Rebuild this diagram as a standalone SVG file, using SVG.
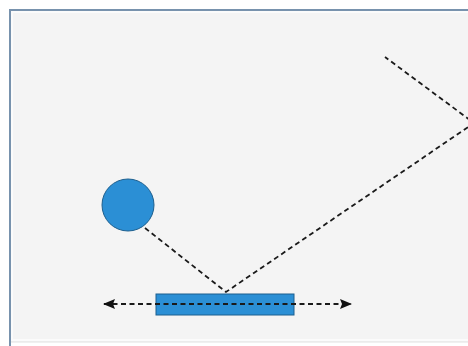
<svg xmlns="http://www.w3.org/2000/svg" width="468" height="346" viewBox="0 0 468 346">
<style>
.bg{fill:#f4f4f4}
.frame{fill:none;stroke:#7892ad;stroke-width:2}
.shape{fill:#2b8fd5;stroke:#1d5f8e;stroke-width:1}
.dash{fill:none;stroke:#1a1a1a;stroke-width:1.8;stroke-dasharray:5 3.5}
</style>
<defs>
<marker id="ah" viewBox="0 0 12 10" refX="11" refY="5" markerWidth="12" markerHeight="10" markerUnits="userSpaceOnUse" orient="auto-start-reverse">
<path d="M0,0 L12,5 L0,10 L2,5 z" fill="#111"/>
</marker>
</defs>
<rect x="0" y="0" width="468" height="346" fill="#ffffff"/>
<rect class="bg" x="10" y="10" width="470" height="332"/>
<rect x="12" y="12" width="470" height="328" fill="none" stroke="#fbfbfb" stroke-width="2"/>
<path class="frame" d="M10,346 L10,10 L470,10"/>
<line x1="11" y1="342" x2="468" y2="342" stroke="#e2e2e2" stroke-width="1"/>
<g id="ball">
<circle class="shape" cx="128" cy="205" r="26"/>
</g>
<g id="paddle">
<rect class="shape" x="156" y="294" width="138" height="21"/>
</g>
<g id="connectors">
<path class="dash" d="M145,228 L226,292 L474,123 L385,57"/>
<line class="dash" x1="104" y1="304" x2="351" y2="304" marker-start="url(#ah)" marker-end="url(#ah)"/>
</g>
</svg>
